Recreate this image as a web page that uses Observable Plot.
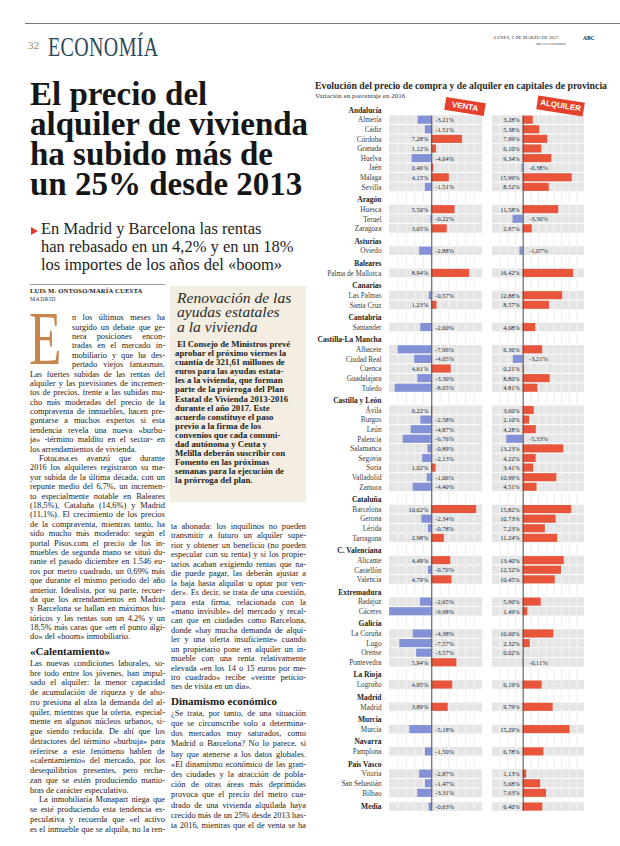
<!DOCTYPE html>
<html><head><meta charset="utf-8">
<script src="https://cdn.jsdelivr.net/npm/d3@7"></script>
<script src="https://cdn.jsdelivr.net/npm/@observablehq/plot@0.6"></script>
<style>
html,body{margin:0;padding:0;background:#fff;}
body{width:620px;height:846px;position:relative;overflow:hidden;font-family:"Liberation Serif",serif;color:#222;}
.abs{position:absolute;}
.col{position:absolute;width:135px;font-size:8.4px;color:#222;}
.col .l{white-space:nowrap;text-align:justify;text-align-last:justify;}
.col .l.end{text-align-last:left;}
.col .l.ind{text-indent:9px;}
.col .l.dc{padding-left:42px;}
.col .hd{font-weight:bold;font-size:11px;line-height:13px;height:13px;margin:3px 0 1px 0;color:#1a1a1a;}
.box{position:absolute;left:170px;top:286px;width:136px;height:216px;background:#f4eee2;}
.tag{position:absolute;background:#e5402c;color:#fff;font-family:"Liberation Sans",sans-serif;font-weight:bold;text-align:center;transform:rotate(9deg);}
.hl{position:absolute;left:30px;font-size:33px;line-height:30px;height:30px;font-weight:bold;color:#161616;white-space:nowrap;}
</style></head>
<body>
<div class="abs" style="left:25px;right:0;top:23px;height:1px;background:#7a7a7a"></div>
<div class="abs" style="left:28px;top:39px;font-size:11px;color:#9c8a66">32</div>
<div class="abs" style="left:48px;top:34px;font-size:27px;line-height:27px;color:#2c4a5a;transform:scaleX(0.74);transform-origin:left top;letter-spacing:0.5px">ECONOMÍA</div>
<div class="abs" style="left:494px;top:35px;font-size:4.6px;color:#333;letter-spacing:0.1px">LUNES, 6 DE MARZO DE 2017</div>
<div class="abs" style="left:583px;top:34.5px;font-size:5.5px;font-weight:bold;color:#222">ABC</div>
<div class="abs" style="left:536px;top:41px;font-size:4.5px;color:#555">abc.es/economia</div>

<div class="hl" style="top:79px">El precio del</div>
<div class="hl" style="top:109px">alquiler de vivienda</div>
<div class="hl" style="top:139px">ha subido más de</div>
<div class="hl" style="top:169px">un 25% desde 2013</div>

<div class="abs" style="left:31px;top:227px;width:0;height:0;border-top:4.5px solid transparent;border-bottom:4.5px solid transparent;border-left:7px solid #e03a2a"></div>
<div class="abs" style="left:41px;top:219.5px;font-size:16.5px;line-height:18px;color:#222;white-space:nowrap">En Madrid y Barcelona las rentas<br>han rebasado en un 4,2% y en un 18%<br>los importes de los años del «boom»</div>

<div class="abs" style="left:30px;top:284px;width:135px;height:1px;background:#9a9a9a"></div>
<div class="abs" style="left:30px;top:287px;font-size:6.6px;line-height:8px;font-weight:bold;letter-spacing:0.2px;color:#222">LUIS M. ONTOSO/MARÍA CUESTA</div>
<div class="abs" style="left:30px;top:296px;font-size:5.8px;line-height:7px;letter-spacing:0.4px;color:#333">MADRID</div>

<div class="abs" style="left:29px;top:310px;font-size:76px;line-height:56px;color:#c9864c;transform:scaleX(0.7);transform-origin:left top">E</div>
<div class="col" id="col1" style="left:30px;top:313.2px"></div>

<div class="box"></div>
<div class="abs" style="left:177px;top:291px;font-size:15.6px;line-height:14.3px;font-style:italic;color:#2a2a2a;white-space:nowrap">Renovación de las<br>ayudas estatales<br>a la vivienda</div>
<div class="abs" id="boxtext" style="left:175px;top:340px;font-size:8.8px;line-height:9.1px;font-weight:bold;color:#222;white-space:nowrap"></div>

<div class="col" id="col2" style="left:171px;top:522px"></div>

<div class="abs" style="left:315px;top:80px;font-size:9.8px;font-weight:bold;color:#2b2b2b;white-space:nowrap">Evolución del precio de compra y de alquiler en capitales de provincia</div>
<div class="abs" style="left:315px;top:92px;font-size:7px;color:#333;white-space:nowrap">Variación en porcentaje en 2016</div>

<div class="abs" id="venta" style="left:310px;top:100px"></div>
<div class="abs" id="alquiler" style="left:486px;top:100px"></div>

<div class="tag" style="left:445px;top:100px;width:40px;height:13px;line-height:13px;font-size:8px">VENTA</div>
<div class="tag" style="left:537px;top:99px;width:47px;height:14px;line-height:14px;font-size:8px">ALQUILER</div>

<script>
// ---------------- chart data ----------------
const regionNames = ["Andalucía","Aragón","Asturias","Baleares","Canarias","Cantabria","Castilla-La Mancha","Castilla y León","Cataluña","C. Valenciana","Extremadura","Galicia","La Rioja","Madrid","Murcia","Navarra","País Vasco"];
const regionCounts = [8,3,1,1,2,1,5,9,4,3,2,4,1,1,1,1,3];
const cities = ["Almería","Cádiz","Córdoba","Granada","Huelva","Jaén","Málaga","Sevilla",
  "Huesca","Teruel","Zaragoza","Oviedo","Palma de Mallorca","Las Palmas","Santa Cruz","Santander",
  "Albacete","Ciudad Real","Cuenca","Guadalajara","Toledo",
  "Ávila","Burgos","León","Palencia","Salamanca","Segovia","Soria","Valladolid","Zamora",
  "Barcelona","Gerona","Lérida","Tarragona","Alicante","Castellón","Valencia",
  "Badajoz","Cáceres","La Coruña","Lugo","Orense","Pontevedra","Logroño","Madrid","Murcia","Pamplona",
  "Vitoria","San Sebastián","Bilbao"];
const venta = [-3.21,-1.51,7.28,1.12,-4.64,0.46,4.15,-1.51,
  5.50,-0.22,3.65,-2.88,8.94,-0.57,1.23,-2.60,
  -7.96,-4.05,4.61,-3.30,-8.65,
  0.22,-2.58,-4.87,-6.76,-0.89,-2.13,1.02,-1.06,-4.40,
  10.62,-2.34,-0.78,2.98,4.49,-0.76,4.79,
  -2.65,-9.98,-4.38,-7.57,-3.57,5.94,4.95,3.89,-5.18,-1.50,
  -2.87,-1.47,-3.31];
const alquiler = [3.28,5.38,7.99,6.10,9.34,-0.38,15.99,8.52,
  11.58,-3.30,2.97,-1.07,16.42,12.88,8.57,4.08,
  6.36,-3.21,0.21,8.80,4.81,
  3.60,2.10,4.28,-5.33,13.23,4.22,3.41,10.99,4.51,
  15.82,10.73,7.23,11.24,13.40,12.52,10.45,
  5.90,1.49,10.00,2.32,0.02,-0.11,6.19,9.79,15.29,6.78,
  1.13,5.68,7.63];
const mediaLabel = "Media";
const mediaVenta = -0.63;
const mediaAlquiler = 6.40;

// ---------------- layout config ----------------
const VENTA_DOMAIN = [-10, 12];
const ALQ_DOMAIN = [-10, 20];
const VENTA_GRID = d3.range(-8, 11, 2).filter(t => t !== 0);
const ALQ_GRID = d3.range(-7.5, 18, 2.5).filter(t => t !== 0);
const GAP_BEFORE_HEADER = 1.28, HEADER_TO_CITY = 1.04, MEDIA_GAP = 1.43;
const PX_PER_UNIT = 9.6, Y0 = 9.7, BAND = 0.45, BAR = 0.42;
const RED = "#e9553b", BLUE = "#8391d6", GRAY = "#e5e5e5";
const FONT = "Liberation Serif, serif";

const rows = [];
let u = 0, k = 0;
regionNames.forEach((r, i) => {
  if (i > 0) u += GAP_BEFORE_HEADER;
  rows.push({kind: "header", label: r, u});
  u += HEADER_TO_CITY - 1;
  for (let j = 0; j < regionCounts[i]; j++) {
    u += 1;
    rows.push({kind: "city", label: cities[k], venta: venta[k], alquiler: alquiler[k], u});
    k++;
  }
});
u += MEDIA_GAP;
rows.push({kind: "media", label: mediaLabel, venta: mediaVenta, alquiler: mediaAlquiler, u});
const uMax = u;
const bars = rows.filter(d => d.kind !== "header");
const yFirst = bars[0].u - BAND, yLast = bars[bars.length - 1].u + BAND;
const H = Math.ceil(Y0 + uMax * PX_PER_UNIT + 8);
const fmt = v => d3.format(".2f")(v).replace(".", ",").replace("−", "-") + "%";

function panel(key, domain, grid, width, ml, mr, withLabels, negDx) {
  const cells = bars.flatMap(b => grid.map(t => ({t, u: b.u})));
  const marks = [
    Plot.ruleX(grid, {y1: yFirst, y2: yLast, stroke: "#e6e6e6", strokeWidth: 0.7}),
    Plot.rect(bars, {x1: domain[0], x2: domain[1], y1: d => d.u - BAND, y2: d => d.u + BAND, fill: GRAY}),
    Plot.ruleX(cells, {x: "t", y1: d => d.u - BAND, y2: d => d.u + BAND, stroke: "#fafafa", strokeWidth: 0.7}),
    Plot.rect(bars.filter(d => d[key] < 0), {x1: 0, x2: key, y1: d => d.u - BAR, y2: d => d.u + BAR, fill: BLUE}),
    Plot.rect(bars.filter(d => d[key] >= 0), {x1: 0, x2: key, y1: d => d.u - BAR, y2: d => d.u + BAR, fill: RED}),
    Plot.ruleX([0], {y1: yFirst, y2: yLast, stroke: "#4a4a4a", strokeWidth: 1}),
    Plot.text(bars.filter(d => d[key] < 0), {x: 0, y: "u", text: d => fmt(d[key]), textAnchor: "start", dx: negDx, fontSize: 6.4, fontFamily: FONT, fill: "#2a2a2a"}),
    Plot.text(bars.filter(d => d[key] >= 0), {x: 0, y: "u", text: d => fmt(d[key]), textAnchor: "end", dx: -3.5, fontSize: 6.4, fontFamily: FONT, fill: "#2a2a2a"})
  ];
  if (withLabels) {
    marks.push(
      Plot.text(rows.filter(d => d.kind === "city"), {frameAnchor: "left", y: "u", text: "label", textAnchor: "end", dx: -8, fontSize: 7.2, fontFamily: FONT, fill: "#3a3a3a"}),
      Plot.text(rows.filter(d => d.kind !== "city"), {frameAnchor: "left", y: "u", text: "label", textAnchor: "end", dx: -8, fontSize: 7.5, fontWeight: "bold", fontFamily: FONT, fill: "#1e1e1e"})
    );
  }
  return Plot.plot({
    width, height: H,
    marginLeft: ml, marginRight: mr, marginTop: 0, marginBottom: 0,
    x: {domain, range: [ml, width - mr], axis: null},
    y: {domain: [0, uMax], range: [Y0, Y0 + uMax * PX_PER_UNIT], axis: null},
    style: {background: "transparent", overflow: "visible"},
    marks
  });
}

document.getElementById("venta").append(panel("venta", VENTA_DOMAIN, VENTA_GRID, 174, 79, 2, true, 3.5));
document.getElementById("alquiler").append(panel("alquiler", ALQ_DOMAIN, ALQ_GRID, 100, 6, 2, false, 6));

// ---------------- article text ----------------
const col1 = [
  {lh: 9.4, dc: 6, lines: ["n los últimos meses ha","surgido un debate que ge-","nera posiciones encon-","tradas en el mercado in-","mobiliario y que ha des-","pertado viejos fantasmas.","Las fuertes subidas de las rentas del","alquiler y las previsiones de incremen-","tos de precios, frente a las subidas mu-","cho más moderadas del precio de la","compraventa de inmuebles, hacen pre-","guntarse a muchos expertos si esta","tendencia revela una nueva «burbu-","ja» -término maldito en el sector- en","los arrendamientos de vivienda."]},
  {lh: 9.4, ind: true, lines: ["Fotocasa.es avanzó que durante","2016 los alquileres registraron su ma-","yor subida de la última década, con un","repunte medio del 6,7%, un incremen-","to especialmente notable en Baleares","(18,5%), Cataluña (14,6%) y Madrid","(11,1%). El crecimiento de los precios","de la compraventa, mientras tanto, ha","sido mucho más moderado: según el","portal Pisos.com el precio de los in-","muebles de segunda mano se situó du-","rante el pasado diciembre en 1.546 eu-","ros por metro cuadrado, un 0,69% más","que durante el mismo periodo del año","anterior. Idealista, por su parte, recuer-","da que los arrendamientos en Madrid","y Barcelona se hallan en máximos his-","tóricos y las rentas son un 4,2% y un","18,5% más caras que «en el punto álgi-","do» del «boom» inmobiliario."]},
  {lh: 9.75, hd: "«Calentamiento»", lines: ["Las nuevas condiciones laborales, so-","bre todo entre los jóvenes, han impul-","sado el alquiler: la menor capacidad","de acumulación de riqueza y de aho-","rro presiona al alza la demanda del al-","quiler, mientras que la oferta, especial-","mente en algunos núcleos urbanos, si-","gue siendo reducida. De ahí que los","detractores del término «burbuja» para","referirse a este fenómeno hablen de","«calentamiento» del mercado, por los","desequilibrios presentes, pero recha-","zan que se estén produciendo manio-","bras de carácter especulativo."]},
  {lh: 9.75, ind: true, cont: true, lines: ["La inmobiliaria Monapart niega que","se esté produciendo esta tendencia es-","peculativa y recuerda que «el activo","es el inmueble que se alquila, no la ren-"]}
];
const col2 = [
  {lh: 9.45, lines: ["ta abonada: los inquilinos no pueden","transmitir a futuro un alquiler supe-","rior y obtener un beneficio (no pueden","especular con su renta) y si los propie-","tarios acaban exigiendo rentas que na-","die puede pagar, las deberán ajustar a","la baja hasta alquilar u optar por ven-","der». Es decir, se trata de una cuestión,","para esta firma, relacionada con la","«mano invisible» del mercado y recal-","can que en ciudades como Barcelona,","donde «hay mucha demanda de alqui-","ler y una oferta insuficiente» cuando","un propietario pone en alquiler un in-","mueble con una renta relativamente","elevada «en los 14 o 15 euros por me-","tro cuadrado» recibe «veinte peticio-","nes de visita en un día»."]},
  {lh: 10.2, hd: "Dinamismo económico", cont: true, lines: ["¿Se trata, por tanto, de una situación","que se circunscribe solo a determina-","dos mercados muy saturados, como","Madrid o Barcelona? No lo parece, si","hay que atenerse a los datos globales.","«El dinamismo económico de las gran-","des ciudades y la atracción de pobla-","ción de otras áreas más deprimidas","provoca que el precio del metro cua-","drado de una vivienda alquilada haya","crecido más de un 25% desde 2013 has-","ta 2016, mientras que el de venta se ha"]}
];
const boxLines = ["El Consejo de Ministros prevé","aprobar el próximo viernes la","cuantía de 321,61 millones de","euros para las ayudas estata-","les a la vivienda, que forman","parte de la prórroga del Plan","Estatal de Vivienda 2013-2016","durante el año 2017. Este","acuerdo constituye el paso","previo a la firma de los","convenios que cada comuni-","dad autónoma y Ceuta y","Melilla deberán suscribir con","Fomento en las próximas","semanas para la ejecución de","la prórroga del plan."];

const ctx = document.createElement("canvas").getContext("2d");
ctx.font = "8.4px 'Liberation Serif'";
const COLW = 135;
function fill(id, paras) {
  const el = document.getElementById(id);
  paras.forEach(p => {
    if (p.hd) { const h = document.createElement("div"); h.className = "hd"; h.textContent = p.hd; el.append(h); }
    p.lines.forEach((t, i) => {
      const d = document.createElement("div");
      d.className = "l";
      d.style.height = d.style.lineHeight = p.lh + "px";
      let avail = COLW;
      if (i === 0 && p.ind) { d.classList.add("ind"); avail -= 9; }
      if (p.dc && i < p.dc) { d.classList.add("dc"); avail -= 42; }
      if (i === p.lines.length - 1 && !p.cont) d.classList.add("end");
      const w = ctx.measureText(t).width;
      if (w > avail - 0.5) d.style.letterSpacing = ((avail - 0.5 - w) / t.length).toFixed(3) + "px";
      d.textContent = t;
      el.append(d);
    });
  });
}
fill("col1", col1);
fill("col2", col2);
document.getElementById("boxtext").innerHTML = boxLines.map((t, i) => (i === 0 ? "&nbsp;" : "") + t).join("<br>");
</script>
</body></html>
